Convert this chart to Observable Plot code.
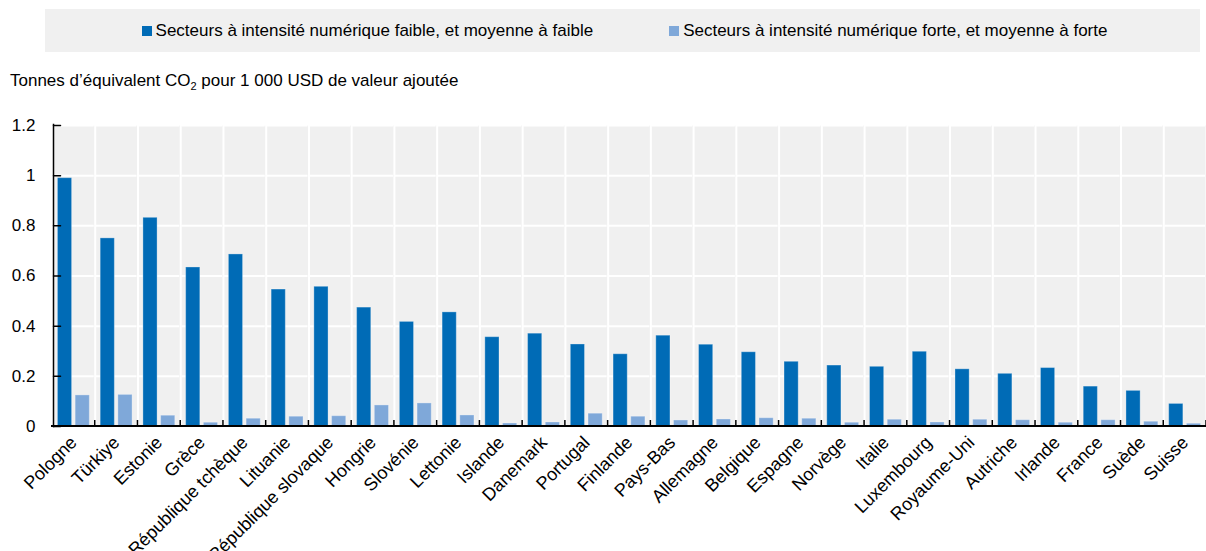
<!DOCTYPE html>
<html>
<head>
<meta charset="utf-8">
<script src="https://cdn.jsdelivr.net/npm/d3@7"></script>
<script src="https://cdn.jsdelivr.net/npm/@observablehq/plot@0.6"></script>
<style>
  body { margin: 0; background: #fff; font-family: "Liberation Sans", Arial, sans-serif; color: #000; }
  #legend { position: absolute; left: 45px; top: 9px; width: 1155px; height: 43px; background: #f0f0f0;
            display: flex; align-items: center; justify-content: center; font-size: 17px; padding-left: 4px; box-sizing: border-box; }
  #legend .item { display: flex; align-items: center; margin: 0 38px; white-space: nowrap; }
  #legend .sw { width: 10px; height: 10px; margin-right: 4px; display: inline-block; }
  #ytitle { position: absolute; left: 10px; top: 72px; font-size: 17px; line-height: 17px; white-space: nowrap; }
  #ytitle sub { font-size: 11px; vertical-align: -4px; line-height: 0; }
  #chart { position: absolute; left: 0; top: 100px; }
</style>
</head>
<body>
<div id="legend"></div>
<div id="ytitle">Tonnes d’équivalent CO<sub>2</sub> pour 1 000 USD de valeur ajoutée</div>
<div id="chart"></div>
<script>
const countries = ["Pologne", "Türkiye", "Estonie", "Grèce", "République tchèque", "Lituanie", "République slovaque",
  "Hongrie", "Slovénie", "Lettonie", "Islande", "Danemark", "Portugal", "Finlande", "Pays-Bas", "Allemagne",
  "Belgique", "Espagne", "Norvège", "Italie", "Luxembourg", "Royaume-Uni", "Autriche", "Irlande", "France", "Suède", "Suisse"];
const lowIntensity = [0.99, 0.75, 0.832, 0.634, 0.686, 0.546, 0.557, 0.474, 0.417, 0.455, 0.356, 0.370, 0.327, 0.288,
  0.362, 0.326, 0.296, 0.258, 0.243, 0.238, 0.298, 0.228, 0.210, 0.233, 0.159, 0.142, 0.090];
const highIntensity = [0.124, 0.126, 0.043, 0.015, 0.031, 0.039, 0.041, 0.084, 0.092, 0.044, 0.012, 0.016, 0.051, 0.039,
  0.024, 0.028, 0.033, 0.031, 0.015, 0.027, 0.016, 0.027, 0.025, 0.015, 0.025, 0.019, 0.011];
const seriesNames = ["Secteurs à intensité numérique faible, et moyenne à faible", "Secteurs à intensité numérique forte, et moyenne à forte"];
const seriesColors = ["#006bb6", "#7fa8d9"];
const yTicks = [0, 0.2, 0.4, 0.6, 0.8, 1, 1.2];

const data = countries.flatMap((c, i) => [
  {country: c, series: seriesNames[0], value: lowIntensity[i]},
  {country: c, series: seriesNames[1], value: highIntensity[i]}
]);

// legend
const legend = d3.select("#legend");
seriesNames.forEach((s, i) => {
  const it = legend.append("span").attr("class", "item");
  it.append("span").attr("class", "sw").style("background", seriesColors[i]);
  it.append("span").text(s);
});

// per-facet baseline segment and boundary tick (drawn in every facet)
const facetBase = Plot.frame({
  stroke: null,
  render(index, scales, values, dimensions) {
    const {width, marginLeft, marginRight} = dimensions;
    const y = scales.y;
    const left = marginLeft, right = width - marginRight;
    const g = d3.create("svg:g").attr("stroke", "#000").attr("fill", "none");
    g.append("line").attr("x1", left - 2).attr("x2", right + 2).attr("y1", y(0)).attr("y2", y(0)).attr("stroke-width", 2);
    g.append("line").attr("x1", right + 1).attr("x2", right + 1).attr("y1", y(0)).attr("y2", y(0) - 6).attr("stroke-width", 1.5);
    return g.node();
  }
});

const tickShape = {draw(context, l) { context.moveTo(0, 0); context.lineTo(0, -l); }};

const chart = Plot.plot({
  width: 1206,
  height: 451,
  marginTop: 25,
  marginBottom: 125,
  marginLeft: 53,
  marginRight: 1,
  style: {fontFamily: '"Liberation Sans", Arial, sans-serif', fontSize: "17px", color: "#000", background: "transparent"},
  fx: {domain: countries, round: false, paddingInner: 0.047, paddingOuter: 0, label: null},
  x: {domain: seriesNames, round: false, paddingInner: 0.2, paddingOuter: 0.25, axis: null},
  y: {domain: [0, 1.2], label: null},
  color: {domain: seriesNames, range: seriesColors},
  marks: [
    Plot.frame({fill: "#f0f0f0", stroke: null}),
    Plot.gridY(yTicks, {stroke: "#fff", strokeOpacity: 1, strokeWidth: 2}),
    Plot.barY(data, {fx: "country", x: "series", y: "value", fill: "series", stroke: "#fff", strokeOpacity: 0.3, strokeWidth: 1}),
    Plot.axisY(yTicks, {tickSize: 0, tickPadding: 18, tickFormat: d => String(d), fontSize: 17, label: null}),
    Plot.axisFx({anchor: "bottom", tickRotate: -45, tickSize: 0, tickPadding: 13, fontSize: 18, label: null}),
    facetBase,
    Plot.frame({anchor: "left", facetAnchor: "left", stroke: "#000", strokeWidth: 1.5, insetTop: -1}),
    Plot.vector(yTicks, {y: d => d, frameAnchor: "left", facetAnchor: "left", length: 7, rotate: 90, anchor: "start",
      shape: tickShape, stroke: "#000", strokeWidth: 1.5})
  ]
});
document.getElementById("chart").appendChild(chart);
</script>
</body>
</html>
